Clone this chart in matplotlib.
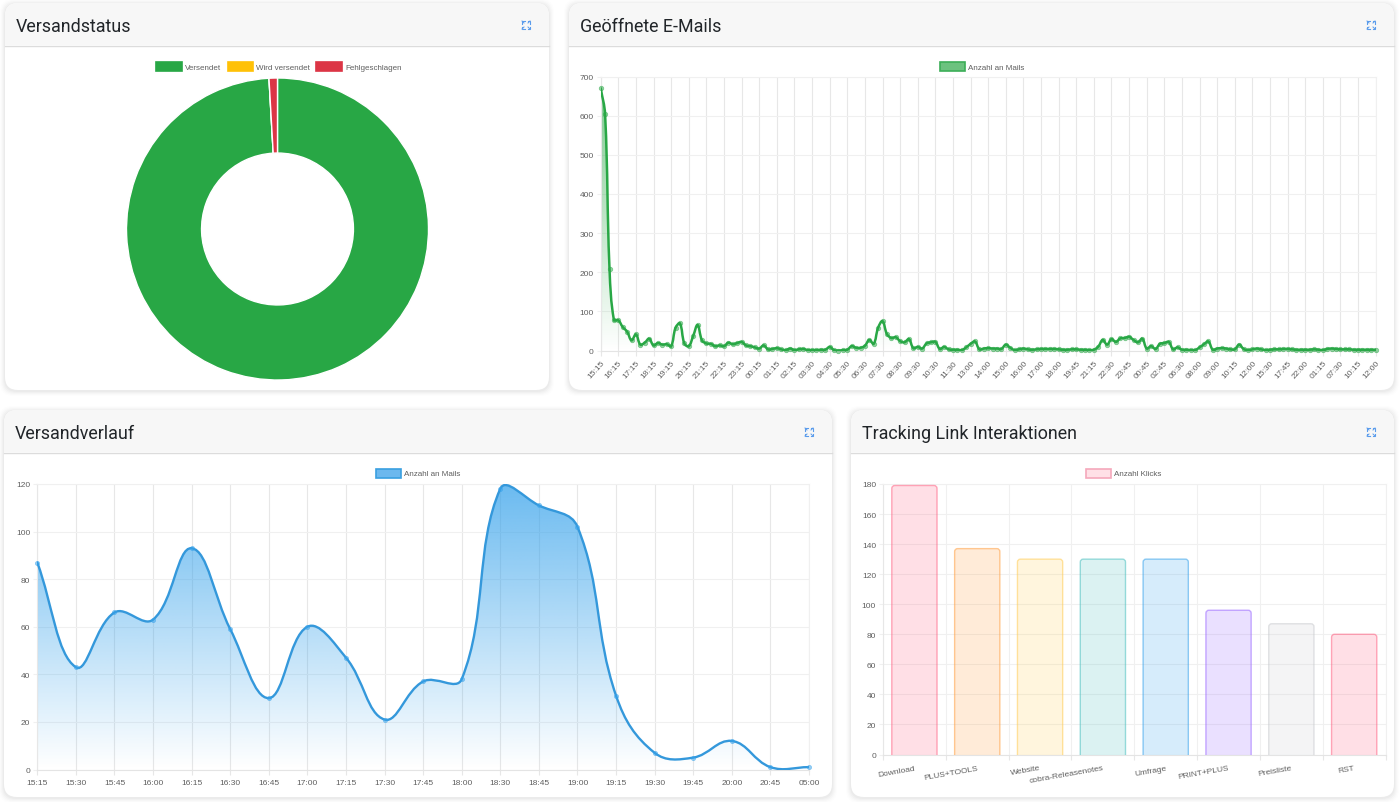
import numpy as np
import matplotlib
matplotlib.use("Agg")
import matplotlib.pyplot as plt
from matplotlib.patches import FancyBboxPatch, PathPatch, Rectangle
from matplotlib.path import Path

# ==============================================================
# Data
# ==============================================================
status_labels = ["Versendet", "Wird versendet", "Fehlgeschlagen"]
status_values = [99.1, 0, 0.9]

opened_labels = ["15:15", "16:15", "17:15", "18:15", "19:15", "20:15", "21:15", "22:15", "23:15",
                 "00:15", "01:15", "02:15", "03:30", "04:30", "05:30", "06:30", "07:30", "08:30",
                 "09:30", "10:30", "11:30", "13:00", "14:00", "15:00", "16:00", "17:00", "18:00",
                 "19:45", "21:15", "22:30", "23:45", "00:45", "02:45", "06:30", "08:00", "09:00",
                 "10:15", "12:00", "15:30", "17:45", "22:00", "01:15", "07:30", "10:15", "12:00"]
opened_values = [670, 603, 209, 78, 77, 60, 48, 26, 41, 15,
                 20, 30, 13, 19, 15, 16, 11, 58, 69, 18,
                 11, 37, 65, 26, 18, 17, 11, 13, 11, 20,
                 16, 19, 22, 13, 11, 8, 5, 13, 3, 4,
                 6, 3, 1, 5, 1, 3, 4, 1, 1, 1,
                 2, 2, 9, 1, 0, 1, 2, 11, 7, 7,
                 12, 27, 17, 58, 75, 42, 32, 34, 24, 21,
                 29, 6, 9, 5, 18, 21, 22, 4, 9, 3,
                 2, 2, 1, 8, 17, 23, 3, 5, 6, 5,
                 5, 4, 15, 7, 1, 3, 5, 3, 2, 3,
                 4, 4, 4, 4, 3, 2, 2, 3, 3, 2,
                 2, 1, 2, 10, 27, 15, 29, 22, 31, 32,
                 35, 27, 21, 30, 5, 11, 4, 17, 19, 22,
                 3, 8, 2, 2, 1, 1, 8, 16, 23, 2,
                 5, 6, 5, 3, 3, 15, 4, 1, 3, 5,
                 3, 1, 2, 3, 3, 4, 4, 3, 2, 2,
                 2, 2, 3, 2, 1, 4, 5, 4, 3, 3,
                 3, 2, 2, 2, 2, 2, 2]

sending_labels = ["15:15", "15:30", "15:45", "16:00", "16:15", "16:30", "16:45", "17:00", "17:15",
                  "17:30", "17:45", "18:00", "18:30", "18:45", "19:00", "19:15", "19:30", "19:45",
                  "20:00", "20:45", "05:00"]
sending_values = [87, 43, 66, 63, 93, 59, 30, 60, 47, 21, 37, 38, 118, 111, 102, 31, 7, 5, 12, 1, 1]

link_labels = ["Download", "PLUS+TOOLS", "Website", "cobra-Releasenotes", "Umfrage",
               "PRINT+PLUS", "Preisliste", "RST"]
link_values = [179, 137, 130, 130, 130, 96, 87, 80]

# ==============================================================
# Parameters
# ==============================================================
W, H = 1400, 803
TITLE_FONT = "Roboto"
CHART_FONT = "Liberation Sans"
TEXT_GREY = "#5f5f5f"
GRID_H = "#f0f0f0"
GRID_V = "#e7e7e7"
GREEN = "#28a745"
BLUE = "#3498db"
ICON_BLUE = "#5b9cec"

link_rgb = [(255, 99, 132), (255, 159, 64), (255, 205, 86), (75, 192, 192),
            (54, 162, 235), (153, 102, 255), (201, 203, 207), (255, 99, 132)]

fig = plt.figure(figsize=(W / 100, H / 100), dpi=100, facecolor="white")

# full-size layer in pixel units for cards, legends and icons
page = fig.add_axes([0, 0, 1, 1], zorder=0)
page.set_xlim(0, W)
page.set_ylim(H, 0)
page.axis("off")


def px_axes(left, top, right, bottom, **kw):
    return fig.add_axes([left / W, 1 - bottom / H, (right - left) / W, (bottom - top) / H],
                        zorder=2, **kw)


def draw_card(left, top, right, bottom, title):
    w, h = right - left, bottom - top
    box = "round,pad=0,rounding_size=13"
    # soft shadow
    for grow, alpha in [(5, 0.008), (4, 0.011), (3, 0.014), (2, 0.018), (1, 0.022)]:
        page.add_patch(FancyBboxPatch((left - grow, top - grow + 1), w + 2 * grow, h + 2 * grow,
                                      boxstyle=box, fc="black", ec="none", alpha=alpha))
    card = FancyBboxPatch((left, top), w, h, boxstyle=box, fc="white", ec="none")
    page.add_patch(card)
    header = Rectangle((left, top), w, 42, fc="#f7f7f7", ec="none")
    page.add_patch(header)
    header.set_clip_path(card)
    page.plot([left, right], [top + 42.5, top + 42.5], color="#dcdcdc", lw=1)
    page.text(left + 10.5, top + 23, title, fontsize=12.85, family=TITLE_FONT, color="#212529",
              va="center", ha="left")
    draw_expand_icon(right - 23, top + 22)


def draw_expand_icon(cx, cy):
    # four small corner arrows
    for sx in (-1, 1):
        for sy in (-1, 1):
            page.plot([cx + sx * 4, cx + sx * 4, cx + sx * 1.5], [cy + sy * 1.5, cy + sy * 4, cy + sy * 4],
                      color=ICON_BLUE, lw=0.8, solid_joinstyle="miter")
            page.plot([cx + sx * 4, cx + sx * 2], [cy + sy * 4, cy + sy * 2], color=ICON_BLUE, lw=0.7)


def legend_entry(left, cy, label, face, edge):
    page.add_patch(Rectangle((left, cy - 4.5), 25.5, 9, fc=face, ec=edge, lw=1.2))
    page.text(left + 29, cy + 1, label, fontsize=5.8, family=CHART_FONT, color=TEXT_GREY,
              va="center", ha="left")


def style_axes(ax):
    ax.set_axisbelow(True)
    ax.grid(True, axis="y", color=GRID_H, lw=0.8)
    ax.grid(True, axis="x", color=GRID_V, lw=0.8)
    for side in ax.spines:
        ax.spines[side].set_color(GRID_H)
        ax.spines[side].set_linewidth(0.8)
    ax.spines["left"].set_color(GRID_V)
    ax.spines["bottom"].set_color("#e4e4e4")
    ax.tick_params(axis="x", colors=GRID_V, labelcolor=TEXT_GREY, labelsize=6, length=3.5, width=0.8)
    ax.tick_params(axis="y", colors=GRID_H, labelcolor=TEXT_GREY, labelsize=6, length=3, width=0.8, pad=2)
    for lab in ax.get_xticklabels() + ax.get_yticklabels():
        lab.set_family(CHART_FONT)


def smooth_path(xs, ys, sx, sy, tension=0.4):
    # bezier spline with control points worked out in pixel space
    pts = np.column_stack([np.asarray(xs, float) * sx, np.asarray(ys, float) * sy])
    n = len(pts)
    verts = [pts[0]]
    codes = [Path.MOVETO]
    before = [pts[0]] * n
    after = [pts[0]] * n
    for i in range(n):
        prev = pts[max(i - 1, 0)]
        cur = pts[i]
        nxt = pts[min(i + 1, n - 1)]
        d01 = np.hypot(*(cur - prev))
        d12 = np.hypot(*(nxt - cur))
        total = d01 + d12
        s01 = d01 / total if total else 0
        s12 = d12 / total if total else 0
        before[i] = cur - tension * s01 * (nxt - prev)
        after[i] = cur + tension * s12 * (nxt - prev)
    for i in range(1, n):
        verts += [after[i - 1], before[i], pts[i]]
        codes += [Path.CURVE4] * 3
    verts = np.array(verts) / [sx, sy]
    return Path(verts, codes)


def gradient_area(ax, path, rgb, top_alpha, x_end, y_top):
    # vertical fade from the top of the plot down to the baseline
    grad = np.zeros((256, 2, 4))
    grad[..., 0], grad[..., 1], grad[..., 2] = [c / 255 for c in rgb]
    grad[..., 3] = (np.linspace(top_alpha, 0, 256))[:, None]
    im = ax.imshow(grad, extent=[0, x_end, 0, y_top], aspect="auto", origin="upper", zorder=1.5)
    v = path.vertices
    area = Path(np.vstack([v, [v[-1, 0], 0], [v[0, 0], 0], v[0]]),
                list(path.codes) + [Path.LINETO, Path.LINETO, Path.CLOSEPOLY])
    clip = PathPatch(area, transform=ax.transData, fc="none", ec="none")
    ax.add_patch(clip)
    im.set_clip_path(clip)


def line_chart(box, labels, tick_pos, values, y_max, y_step, rgb, color, top_alpha, lw, ms, rotation):
    left, top, right, bottom = box
    ax = px_axes(left, top, right, bottom)
    ax.patch.set_alpha(0)
    xs = np.arange(len(values))
    x_end = xs[-1]
    path = smooth_path(xs, values, (right - left) / x_end, (bottom - top) / y_max)
    gradient_area(ax, path, rgb, top_alpha, x_end, y_max)
    ax.add_patch(PathPatch(path, fc="none", ec=color, lw=lw, zorder=3, capstyle="round"))
    ax.plot(xs, values, ls="none", marker="o", ms=ms, mfc=(*[c / 255 for c in rgb], 0.5),
            mec=(*[c / 255 for c in rgb], 0.5), mew=0.6, zorder=4, clip_on=False)
    ax.set_xlim(0, x_end)
    ax.set_ylim(0, y_max)
    ax.set_xticks(tick_pos)
    ax.set_yticks(np.arange(0, y_max + 1, y_step))
    if rotation:
        ax.set_xticklabels(labels, rotation=rotation, ha="right", rotation_mode="anchor")
    else:
        ax.set_xticklabels(labels)
    style_axes(ax)
    return ax


# ==============================================================
# Cards
# ==============================================================
draw_card(5, 4, 549, 391, "Versandstatus")
draw_card(569, 4, 1394, 391, "Geöffnete E-Mails")
draw_card(4, 411, 832, 798, "Versandverlauf")
draw_card(851, 411, 1394, 798, "Tracking Link Interaktionen")

# ==============================================================
# Versandstatus donut
# ==============================================================
status_colors = [GREEN, "#ffc107", "#dc3545"]
donut = px_axes(126.5, 79, 428.5, 381)
donut.pie(status_values, colors=status_colors, startangle=90, counterclock=False, radius=1,
          wedgeprops=dict(width=0.497, edgecolor="white", linewidth=1.0))
donut.set_xlim(-1, 1)
donut.set_ylim(-1, 1)

for left, label, col in zip([156, 227.5, 316], status_labels, status_colors):
    legend_entry(left, 67, label, col, col)

# ==============================================================
# Geöffnete E-Mails
# ==============================================================
ax_open = line_chart((600.7, 77.5, 1375.7, 351.5), opened_labels, np.arange(len(opened_labels)) * 4,
                     opened_values, 700, 100, (40, 167, 69), GREEN, 0.62, 1.8, 3.2, 48)
ax_open.tick_params(axis="x", pad=2.5)
legend_entry(939.5, 67, "Anzahl an Mails", "#6cc27f", "#3cae58")

# ==============================================================
# Versandverlauf
# ==============================================================
ax_send = line_chart((37.3, 485, 809, 770.5), sending_labels, np.arange(len(sending_labels)),
                     sending_values, 120, 20, (54, 162, 235), BLUE, 0.74, 1.7, 3.0, 0)
legend_entry(375.5, 474, "Anzahl an Mails", "#6cb8ee", "#3a9fe0")

# ==============================================================
# Tracking Link Interaktionen
# ==============================================================
ax_link = px_axes(883, 485, 1385.6, 755.5)
ax_link.patch.set_alpha(0)
bar_width = 0.72
px_per_cat = (1385.6 - 883) / len(link_values)
round_aspect = (180 / 270.5) * px_per_cat
for i, (val, rgb) in enumerate(zip(link_values, link_rgb)):
    c = [x / 255 for x in rgb]
    ax_link.add_patch(FancyBboxPatch((i - bar_width / 2, -6), bar_width, val + 6,
                                     boxstyle=f"round,pad=0,rounding_size={3 / px_per_cat}",
                                     mutation_aspect=round_aspect, fc=(*c, 0.2), ec=(*c, 0.55),
                                     lw=1.0, zorder=3))
ax_link.set_xlim(-0.5, len(link_values) - 0.5)
ax_link.set_ylim(0, 180)
ax_link.set_yticks(np.arange(0, 181, 20))
ax_link.set_xticks(np.arange(len(link_values)))
ax_link.set_xticklabels(link_labels, rotation=10, ha="right", rotation_mode="anchor")
ax_link.set_xticks(np.arange(len(link_values) + 1) - 0.5, minor=True)
style_axes(ax_link)
ax_link.grid(False, axis="x", which="major")
ax_link.grid(True, axis="x", which="minor", color=GRID_H, lw=0.8)
ax_link.tick_params(axis="x", which="major", length=0, pad=7)
ax_link.tick_params(axis="x", which="minor", length=3.5, width=0.8, color=GRID_V)
legend_entry(1085.5, 474, "Anzahl Klicks", "#ffe0e6", "#f5a8bb")

fig.savefig("out.png", dpi=100, facecolor="white")
